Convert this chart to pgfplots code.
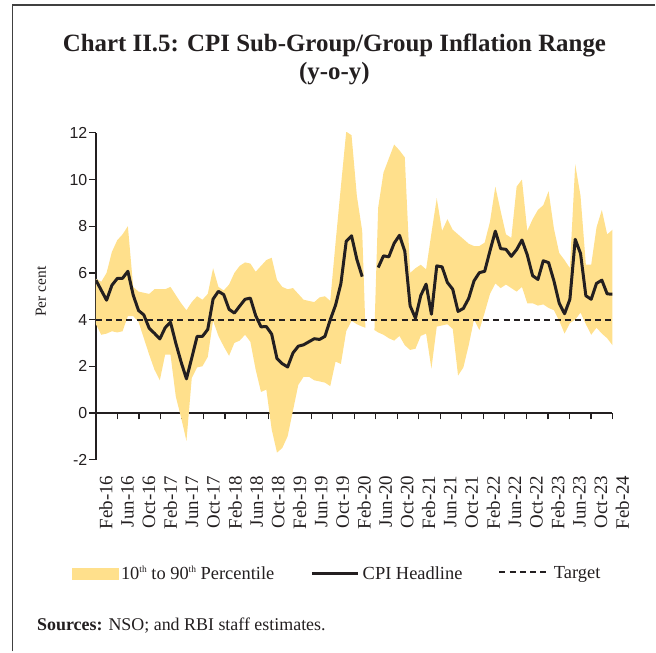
\documentclass[border=0pt]{standalone}
\usepackage{fontspec}
\setmainfont{Liberation Serif}
\newfontfamily\ticksf{Liberation Sans}
\usepackage{pgfplots}
\pgfplotsset{compat=1.18}
\usepackage{pgfplotstable}
\definecolor{band}{RGB}{255,224,140}
\definecolor{ink}{RGB}{35,31,32}
\newcommand\sth{\raisebox{6.5bp}{\fontsize{9.5}{10}\selectfont th}}

% 10th-90th percentile band, first segment: upper edge forward, lower edge back
\pgfplotstableread{
x y
0 5.75
1 5.62
2 6.00
3 6.90
4 7.40
5 7.65
6 8.00
7 5.40
8 5.20
9 5.15
10 5.10
11 5.30
12 5.30
13 5.30
14 5.40
15 5.05
16 4.70
17 4.40
18 4.75
19 5.00
20 4.85
21 5.10
22 6.20
23 5.40
24 5.25
25 5.50
26 6.00
27 6.30
28 6.45
29 6.40
30 6.05
31 6.30
32 6.55
33 6.65
34 5.70
35 5.40
36 5.30
37 5.35
38 5.10
39 4.85
40 4.80
41 4.75
42 4.95
43 5.00
44 4.80
45 7.30
46 9.70
47 12.05
48 11.90
49 9.30
50 7.80
50.6 3.65
50 3.70
49 3.80
48 3.95
47 3.50
46 2.10
45 2.20
44 1.15
43 1.30
42 1.35
41 1.40
40 1.55
39 1.55
38 1.20
37 0.10
36 -1.00
35 -1.50
34 -1.70
33 -0.70
32 1.00
31 0.90
30 1.85
29 3.05
28 3.35
27 3.10
26 3.00
25 2.45
24 2.85
23 3.30
22 3.95
21 2.40
20 2.00
19 1.95
18 1.50
17 -1.20
16 -0.20
15 0.70
14 2.50
13 2.50
12 1.40
11 1.85
10 2.50
9 3.20
8 3.90
7 4.15
6 4.15
5 3.50
4 3.45
3 3.50
2 3.40
1 3.35
0 3.80
}\bandA

% second segment (after the Apr-May 2020 gap)
\pgfplotstableread{
x y
52.3 3.55
53 8.80
54 10.30
55 10.90
56 11.50
57 11.25
58 10.95
59 6.00
60 6.20
61 6.35
62 6.15
63 7.70
64 9.20
65 7.80
66 8.30
67 7.85
68 7.65
69 7.45
70 7.25
71 7.15
72 7.15
73 7.30
74 8.20
75 9.70
76 8.65
77 7.65
78 7.50
79 9.70
80 10.00
81 7.80
82 8.30
83 8.70
84 8.90
85 9.50
86 7.90
87 6.85
88 6.55
89 6.20
90 10.65
91 9.30
92 6.35
93 6.35
94 7.95
95 8.70
96 7.65
97 7.85
97 2.90
96 3.20
95 3.40
94 3.65
93 3.35
92 3.80
91 4.30
90 4.00
89 3.85
88 3.40
87 3.95
86 4.40
85 4.50
84 4.65
83 4.60
82 4.70
81 4.70
80 5.40
79 5.20
78 5.35
77 5.50
76 5.35
75 5.55
74 5.10
73 4.30
72 3.55
71 4.00
70 2.90
69 1.95
68 1.60
67 3.60
66 3.80
65 3.75
64 3.70
63 1.90
62 3.40
61 3.30
60 2.75
59 2.70
58 2.90
57 3.30
56 3.10
55 3.20
54 3.35
53 3.45
}\bandB

\pgfplotstableread{
j C
0 5.69
1 5.26
2 4.83
3 5.47
4 5.76
5 5.77
6 6.07
7 5.05
8 4.39
9 4.20
10 3.63
11 3.41
12 3.17
13 3.65
14 3.89
15 2.99
16 2.18
17 1.46
18 2.36
19 3.28
20 3.28
21 3.58
22 4.88
23 5.21
24 5.07
25 4.44
26 4.28
27 4.58
28 4.87
29 4.92
30 4.17
31 3.69
32 3.70
33 3.38
34 2.33
35 2.11
36 1.97
37 2.57
38 2.86
39 2.92
40 3.05
41 3.18
42 3.15
43 3.28
44 3.99
45 4.62
46 5.54
47 7.35
48 7.59
49 6.58
50 5.84
51 nan
52 nan
53 6.23
54 6.73
55 6.69
56 7.27
57 7.61
58 6.93
59 4.59
60 4.06
61 5.03
62 5.52
63 4.23
64 6.30
65 6.26
66 5.59
67 5.30
68 4.35
69 4.48
70 4.91
71 5.66
72 6.01
73 6.07
74 6.95
75 7.79
76 7.04
77 7.01
78 6.71
79 7.00
80 7.41
81 6.77
82 5.88
83 5.72
84 6.52
85 6.44
86 5.66
87 4.70
88 4.25
89 4.87
90 7.44
91 6.83
92 5.02
93 4.87
94 5.55
95 5.69
96 5.10
97 5.09
}\cpi

\begin{document}
\begin{tikzpicture}
\path (0bp,0bp) rectangle (656bp,652bp);
\draw[line width=1.1bp, black!75] (12.7bp,0bp) -- (12.7bp,647bp) -- (656bp,647bp);
\node[anchor=base, font=\fontsize{25}{29}\selectfont\bfseries, text=ink] at (334.7bp,600.3bp) {Chart II.5: CPI Sub-Group/Group Inflation Range};
\node[anchor=base, font=\fontsize{25}{29}\selectfont\bfseries, text=ink] at (334.7bp,572bp) {(y-o-y)};
\node[rotate=90, font=\fontsize{15.5}{18}\selectfont, text=ink] at (41bp,360bp) {Per cent};
\node[anchor=base west, inner sep=0pt, font=\fontsize{18}{21}\selectfont, text=ink] at (37bp,21bp) {\textbf{Sources:} NSO; and RBI staff estimates.};
\begin{axis}[
  at={(96bp,192bp)}, anchor=south west,
  scale only axis, width=517bp, height=327bp,
  xmin=0, xmax=97, ymin=-2, ymax=12,
  axis y line=left, axis x line=middle,
  hide obscured x ticks=false,
  axis line style={-, line width=1.2bp, ink},
  tick style={line width=1.2bp, ink},
  tick align=outside, major tick length=6.5bp,
  ytick={-2,0,2,4,6,8,10,12},
  yticklabels={-2,0,2,4,6,8,10,12},
  yticklabel style={font=\ticksf\fontsize{16}{19}\selectfont, text=ink, inner sep=2bp},
  xtick={0,4.0417,8.0833,12.125,16.1667,20.2083,24.25,28.2917,32.3333,36.375,40.4167,44.4583,48.5,52.5417,56.5833,60.625,64.6667,68.7083,72.75,76.7917,80.8333,84.875,88.9167,92.9583,97},
  xticklabels={Feb-16,Jun-16,Oct-16,Feb-17,Jun-17,Oct-17,Feb-18,Jun-18,Oct-18,Feb-19,Jun-19,Oct-19,Feb-20,Jun-20,Oct-20,Feb-21,Jun-21,Oct-21,Feb-22,Jun-22,Oct-22,Feb-23,Jun-23,Oct-23,Feb-24},
  xticklabel style={font=\fontsize{19}{22}\selectfont, text=ink, xshift=10bp, yshift=-56bp, rotate=90, anchor=east, inner sep=0pt},
  unbounded coords=jump,
  legend columns=3,
  legend style={at={(axis description cs:-0.0464,-0.3486)}, anchor=west, draw=none, fill=none, inner sep=0pt,
    font=\fontsize{18.5}{21}\selectfont, text=ink,
    nodes={inner xsep=3bp, inner ysep=1bp},
    /tikz/every even column/.append style={column sep=33bp}},
  legend cell align=left,
]
\addplot[fill=band, draw=none, forget plot] table[x=x,y=y]{\bandA};
\addplot[fill=band, draw=none, forget plot] table[x=x,y=y]{\bandB};
\addplot[ink, line width=2.1bp, dash pattern=on 6bp off 4.2bp, forget plot] coordinates {(0,4) (97,4)};
\addplot[ink, line width=3bp, line join=round, forget plot] table[x=j,y=C]{\cpi};
\addlegendimage{legend image code/.code={\fill[band] (0bp,-5.4bp) rectangle (45.5bp,5.4bp);}}
\addlegendentry{10\sth{} to 90\sth{} Percentile}
\addlegendimage{legend image code/.code={\draw[ink, line width=3bp] (0bp,0bp) -- (46.5bp,0bp);}}
\addlegendentry{CPI Headline}
\addlegendimage{legend image code/.code={\draw[ink, line width=2bp, dash pattern=on 6bp off 4.2bp] (0bp,2bp) -- (46.6bp,2bp);}}
\addlegendentry{\hspace{4bp}Target}
\end{axis}
\end{tikzpicture}
\end{document}
